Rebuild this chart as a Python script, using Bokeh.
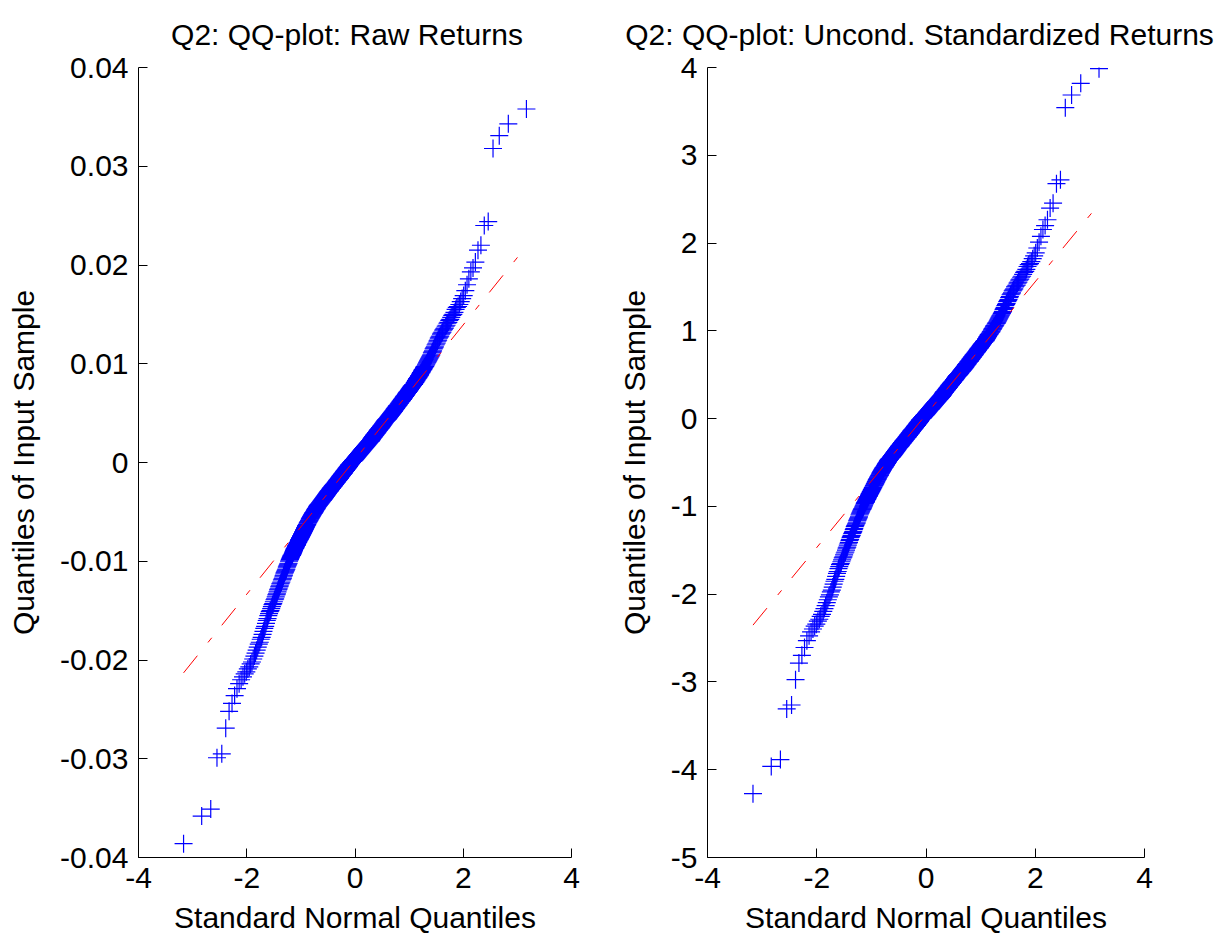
import numpy as np
from statistics import NormalDist
from bokeh.plotting import figure
from bokeh.layouts import row
from bokeh.models import Range1d, FixedTicker
from bokeh.embed import file_html
from bokeh.resources import INLINE

# Sorted raw returns, in units of 1e-4
sorted_raw_returns_1e4 = [
    -386, -358, -351, -299, -295, -269, -252, -244, -236, -229, -224, -220,
    -217, -214, -212, -209, -207, -204, -202, -199, -196, -193, -190, -187,
    -184, -182, -179, -177, -174, -171, -168, -166, -163, -160, -158, -155,
    -153, -151, -150, -148, -146, -144, -143, -141,
    -139, -138, -136, -134, -133, -131, -129, -128, -126,
    -125, -123, -122, -121, -119, -118, -117, -115, -114, -112,
    -111, -110, -109, -108, -106, -105, -104, -103, -102, -100, -99, -98,
    -97, -96, -95, -94, -94, -93, -92, -91, -90, -89, -88, -87, -87, -86,
    -85, -84, -84, -83, -82, -81, -81, -80, -79, -78, -78, -77, -76, -76, -75,
    -74, -74, -73, -72, -72, -71, -70, -70, -69, -68, -68, -67, -66, -66, -65, -64,
    -64, -63, -63, -62, -61, -61, -60, -60, -59, -59, -58, -57, -57, -56, -56, -55, -55, -54,
    -54, -53, -53, -52, -52, -51, -51, -51, -50, -50, -49, -49, -48, -48, -47, -47, -47, -46, -46, -45,
    -45, -44, -44, -44, -43, -43, -43, -42, -42, -42, -41, -41, -41, -40, -40, -40, -39, -39, -39, -38,
    -38, -38, -37, -37, -37, -36, -36, -36, -35, -35, -35, -34, -34, -34, -33, -33, -33, -32, -32, -32,
    -31, -31, -31,
    -30, -30, -30, -29, -29, -29, -29, -28, -28, -28, -27, -27, -27, -26, -26, -26, -26, -25, -25, -25,
    -24, -24, -24,
    -24, -23, -23, -23, -22, -22, -22, -22, -21, -21, -21, -20, -20, -20, -20, -19, -19, -19, -18, -18,
    -18, -18, -17, -17, -17,
    -16, -16, -16, -16, -15, -15, -15, -14, -14, -14, -14, -13, -13, -13, -12, -12, -12, -12, -11, -11,
    -11, -11, -10, -10, -10,
    -9, -9, -9, -9, -8, -8, -8, -8, -7, -7, -7, -6, -6, -6, -6, -5, -5, -5, -5, -4, -4, -4, -3, -3, -3,
    -2, -2, -2, -2, -1, -1, -1, -1, 0, 0, 0, 0, 1, 1, 1, 1, 2, 2, 2, 2, 3, 3, 3, 3, 3, 4,
    4, 4, 4, 5, 5, 5, 5, 6, 6, 6, 6, 7, 7, 7, 7, 8, 8, 8, 8, 9, 9, 9, 9, 10, 10, 10,
    10, 11, 11, 11, 11, 12, 12, 12, 12, 13, 13, 13, 13, 14, 14, 14, 14, 15, 15, 15, 15, 16, 16, 16, 16, 17,
    17, 17, 17, 18, 18, 18, 18, 19, 19, 19, 19, 20, 20, 20, 20, 21, 21, 21, 21, 22, 22, 22, 22, 23, 23,
    23, 24, 24, 24, 25, 25, 25, 26, 26, 26, 26, 27, 27, 27, 28, 28, 28, 28, 29, 29, 29, 30, 30, 30,
    30, 31, 31, 31, 32, 32, 32, 33, 33, 33, 33, 34, 34, 34, 35, 35, 35, 35, 36, 36, 36, 37, 37, 37,
    38, 38, 38, 39, 39, 39, 40, 40, 40, 41, 41, 41, 42, 42, 42, 43, 43, 43, 43, 44, 44, 44,
    44, 45, 45, 45, 46, 46, 46, 47, 47, 47, 48, 48, 48, 49, 49, 49, 50, 50, 50, 51, 51,
    51, 52, 52, 52, 53, 53, 54, 54, 54, 55, 55, 55, 56, 56, 57, 57, 57, 58, 58,
    58, 59, 59, 60, 60, 60, 61, 61, 62, 62, 62, 63, 63, 64, 64, 64, 65, 65,
    66, 66, 67, 67, 67, 68, 68, 69, 69, 70, 70, 71, 71, 71, 72, 72, 73,
    73, 74, 74, 75, 75, 76, 76, 77, 77, 78, 78, 79, 79, 79, 80,
    81, 81, 82, 83, 83, 84, 85, 85, 86, 86, 87, 88, 88,
    89, 90, 91, 91, 92, 93, 94, 94, 95, 96, 97, 97,
    98, 99, 100, 101, 102, 103, 104, 105, 106, 107, 108,
    109, 111, 112, 113, 115, 116, 117, 119, 120,
    121, 123, 124, 126, 127, 128, 130, 131,
    132, 134, 135, 136, 138, 139,
    141, 142, 144, 145, 147, 149,
    150, 152, 155, 157,
    158, 160, 163, 166, 169, 174, 180, 186, 193, 197, 203, 215, 220, 240, 244,
    318, 331, 343, 358,
]

titles = ["Q2: QQ-plot: Raw Returns", "Q2: QQ-plot: Uncond. Standardized Returns"]
x_label = "Standard Normal Quantiles"
y_label = "Quantiles of Input Sample"
x_ticks = [-4, -2, 0, 2, 4]
x_tick_labels = ["-4", "-2", "0", "2", "4"]
raw_y_ticks = [-0.04, -0.03, -0.02, -0.01, 0, 0.01, 0.02, 0.03, 0.04]
raw_y_tick_labels = ["-0.04", "-0.03", "-0.02", "-0.01", "0", "0.01", "0.02", "0.03", "0.04"]
std_y_ticks = [-5, -4, -3, -2, -1, 0, 1, 2, 3, 4]
std_y_tick_labels = ["-5", "-4", "-3", "-2", "-1", "0", "1", "2", "3", "4"]

raw = np.array(sorted_raw_returns_1e4, dtype=float) * 1e-4
n = len(raw)
nd = NormalDist()
theo = np.array([nd.inv_cdf((i - 0.5) / n) for i in range(1, n + 1)])
std_ret = (raw - raw.mean()) / raw.std(ddof=1)


def qq_line(x, y):
    q1x, q3x = np.percentile(x, [25, 75], method="hazen")
    q1y, q3y = np.percentile(y, [25, 75], method="hazen")
    slope = (q3y - q1y) / (q3x - q1x)
    xs = [float(x.min()), float(x.max())]
    ys = [float(q1y + slope * (v - q1x)) for v in xs]
    return xs, ys


FONT = "Liberation Sans"
FS = "30px"
H = 942


def make_panel(title, y, y_range, y_ticks, y_labels, width, left, right, ylab_standoff, toffset):
    p = figure(width=width, height=H, x_range=Range1d(-4, 4), y_range=Range1d(*y_range),
               output_backend="svg", toolbar_location=None,
               min_border_left=left, min_border_right=right,
               min_border_top=67, min_border_bottom=H - 857, title=title)
    p.title.text_font = FONT
    p.title.text_font_size = FS
    p.title.text_font_style = "normal"
    p.title.text_color = "black"
    p.title.align = "left"
    p.title.offset = toffset
    p.title.vertical_align = "top"
    p.title.standoff = 29
    p.grid.visible = False
    p.outline_line_color = None
    p.background_fill_color = "white"
    p.border_fill_color = "white"

    bottom_ax = p.xaxis[0]
    left_ax = p.yaxis[0]
    for ax in (bottom_ax, left_ax):
        ax.major_tick_in = 9
        ax.major_tick_out = 0
        ax.minor_tick_line_color = None
        ax.axis_line_color = "black"
        ax.major_tick_line_color = "black"
        ax.major_label_text_font = FONT
        ax.major_label_text_font_size = FS
        ax.major_label_text_color = "black"
        ax.axis_label_text_font = FONT
        ax.axis_label_text_font_size = FS
        ax.axis_label_text_font_style = "normal"
        ax.axis_label_text_color = "black"

    bottom_ax.ticker = FixedTicker(ticks=x_ticks)
    bottom_ax.major_label_overrides = dict(zip(x_ticks, x_tick_labels))
    bottom_ax.axis_label = x_label
    bottom_ax.major_label_standoff = 10
    bottom_ax.axis_label_standoff = 10

    left_ax.ticker = FixedTicker(ticks=y_ticks)
    left_ax.major_label_overrides = dict(zip(y_ticks, y_labels))
    left_ax.axis_label = y_label
    left_ax.major_label_standoff = 10
    left_ax.axis_label_standoff = ylab_standoff

    p.scatter(theo, y, marker="cross", size=18, line_color="#0000FF", line_width=1.2)
    lx, ly = qq_line(theo, y)
    p.line(lx, ly, line_color="#FF0000", line_width=1, line_dash="22 17 6 16")
    return p


W1 = 611
p1 = make_panel(titles[0], raw, (-0.04, 0.04), raw_y_ticks, raw_y_tick_labels,
                W1, 138, W1 - 138 - 433, 17, 32.6)
p2 = make_panel(titles[1], std_ret, (-5, 4), std_y_ticks, std_y_tick_labels,
                1219 - W1, 707 - W1, 1219 - 1144, 17, -82.3)

layout = row(p1, p2)
open("out.html", "w").write(file_html(layout, INLINE))
